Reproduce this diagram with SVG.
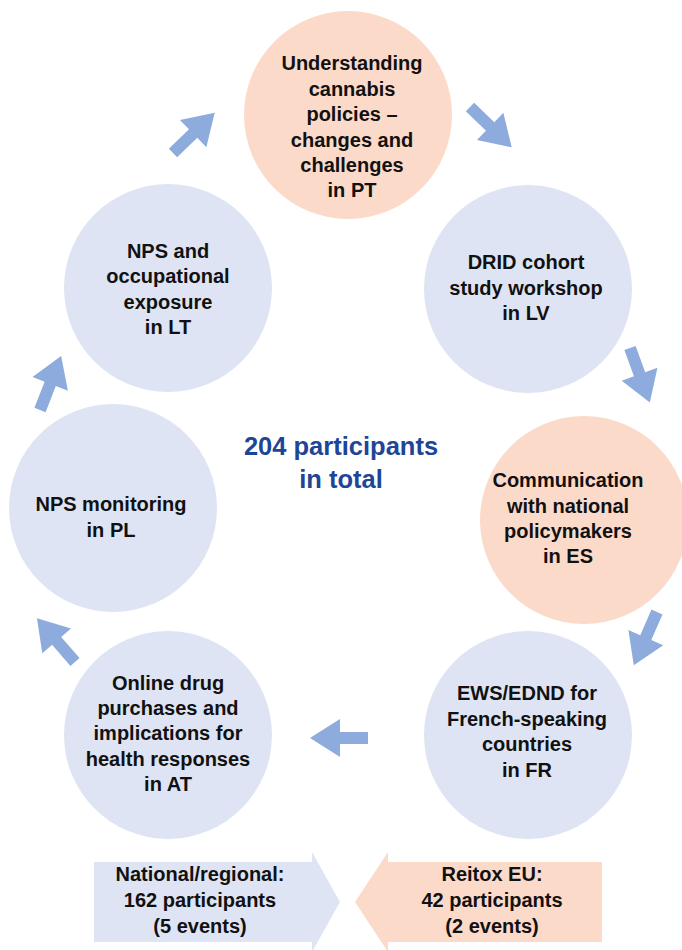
<svg xmlns="http://www.w3.org/2000/svg" width="682" height="950" viewBox="0 0 682 950">
<defs>
<style>
.blue{fill:#dee4f3}
.peach{fill:#fcdaca}
.t{font-family:"Liberation Sans",Arial,sans-serif;font-weight:bold;font-size:20px;fill:#111;text-anchor:middle}
.c{font-family:"Liberation Sans",Arial,sans-serif;font-weight:bold;font-size:25.5px;fill:#1f4596;text-anchor:middle}
.arr{fill:#8dabdc}
</style>
<polygon id="ar" points="0,-6 28,-6 28,-19 58,0 28,19 28,6 0,6"/>
</defs>
<rect width="682" height="950" fill="#ffffff"/>

<g id="node-pt">
<circle class="peach" cx="348" cy="115" r="104"/>
<text class="t" x="352" y="70">Understanding</text>
<text class="t" x="352" y="95.5">cannabis</text>
<text class="t" x="352" y="121">policies –</text>
<text class="t" x="352" y="146.5">changes and</text>
<text class="t" x="352" y="172">challenges</text>
<text class="t" x="352" y="197">in PT</text>
</g>
<g id="node-lv">
<circle class="blue" cx="528" cy="289" r="104"/>
<text class="t" x="526" y="269">DRID cohort</text>
<text class="t" x="526" y="295">study workshop</text>
<text class="t" x="526" y="320">in LV</text>
</g>
<g id="node-es">
<circle class="peach" cx="584" cy="520" r="104"/>
<text class="t" x="568" y="487">Communication</text>
<text class="t" x="568" y="513">with national</text>
<text class="t" x="568" y="538">policymakers</text>
<text class="t" x="568" y="563">in ES</text>
</g>
<g id="node-fr">
<circle class="blue" cx="528" cy="735" r="104"/>
<text class="t" x="527" y="700">EWS/EDND for</text>
<text class="t" x="527" y="726">French-speaking</text>
<text class="t" x="527" y="751">countries</text>
<text class="t" x="527" y="777">in FR</text>
</g>
<g id="node-at">
<circle class="blue" cx="168" cy="735" r="104"/>
<text class="t" x="168" y="690">Online drug</text>
<text class="t" x="168" y="715">purchases and</text>
<text class="t" x="168" y="740">implications for</text>
<text class="t" x="168" y="766">health responses</text>
<text class="t" x="168" y="791">in AT</text>
</g>
<g id="node-pl">
<circle class="blue" cx="113" cy="508" r="104"/>
<text class="t" x="111" y="511">NPS monitoring</text>
<text class="t" x="111" y="537">in PL</text>
</g>
<g id="node-lt">
<circle class="blue" cx="168" cy="288" r="104"/>
<text class="t" x="168" y="258">NPS and</text>
<text class="t" x="168" y="283">occupational</text>
<text class="t" x="168" y="309">exposure</text>
<text class="t" x="168" y="334">in LT</text>
</g>

<g id="center">
<text class="c" x="341" y="455">204 participants</text>
<text class="c" x="341" y="488">in total</text>
</g>

<g id="connectors" class="arr">
<use href="#ar" transform="translate(173,153) rotate(-44)"/>
<use href="#ar" transform="translate(470,107) rotate(44)"/>
<use href="#ar" transform="translate(630,348) rotate(70)"/>
<use href="#ar" transform="translate(657,612) rotate(113.6)"/>
<use href="#ar" transform="translate(368,738) rotate(180)"/>
<use href="#ar" transform="translate(75,662) rotate(-131)"/>
<use href="#ar" transform="translate(40,410) rotate(-68.6)"/>
</g>

<g id="national">
<polygon class="blue" points="94,862 312,862 312,852 340,902 312,952 312,942 94,942"/>
<text class="t" x="200" y="881">National/regional:</text>
<text class="t" x="200" y="907">162 participants</text>
<text class="t" x="200" y="933">(5 events)</text>
</g>
<g id="reitox">
<polygon class="peach" points="602,862 388,862 388,852 355,902 388,952 388,942 602,942"/>
<text class="t" x="492" y="881">Reitox EU:</text>
<text class="t" x="492" y="907">42 participants</text>
<text class="t" x="492" y="933">(2 events)</text>
</g>
</svg>
